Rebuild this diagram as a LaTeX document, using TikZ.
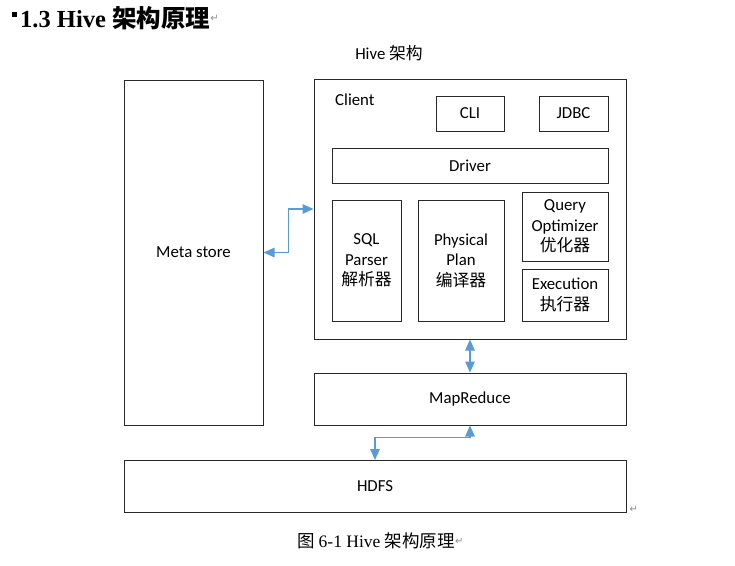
\documentclass[tikz,border=0pt]{standalone}
\usepackage{fontspec}
\setmainfont{Carlito}
\newfontfamily\cjk{Noto Sans CJK SC}
\newfontfamily\titlefont{Liberation Serif}
\newfontfamily\symfont{DejaVu Sans}
\usetikzlibrary{arrows.meta, positioning, calc}

\definecolor{linkblue}{RGB}{91, 155, 213}
\definecolor{markgray}{RGB}{140, 140, 140}
\definecolor{edgegray}{RGB}{40, 40, 40}

\newcommand{\bodyfont}{\fontsize{16.8}{20.5}\selectfont}
\tikzset{
  box/.style={draw=edgegray, line width=1pt, inner sep=0pt, align=center, font=\bodyfont},
  link/.style={linkblue, line width=1.3pt, {Triangle[length=11pt,width=9.5pt]}-{Triangle[length=11pt,width=9.5pt]}},
  pmark/.style={markgray, font=\symfont\fontsize{10}{10}\selectfont, inner sep=0pt}
}

\begin{document}
\begin{tikzpicture}[x=1pt, y=-1pt]
  % 页面范围（与截图一致）
  \useasboundingbox (0,0) rectangle (735,565);
  \fill[white] (0,0) rectangle (735,565);

  % 小节标题
  \fill (12,12) rectangle (17,17);
  \node[anchor=west, inner sep=0pt, font=\fontsize{24.5}{24.5}\selectfont] (sectitle) at (20,18)
    {\titlefont\bfseries 1.3 Hive {\cjk\bfseries 架构原理}};
  \node[pmark, anchor=west] (mark1) at (sectitle.east) {↵};

  % 图名
  \node[font=\bodyfont, inner sep=0pt] (archtitle) at (389,53) {Hive {\cjk 架构}};

  % 左侧 Meta store
  \node[box, minimum width=139, minimum height=345] (meta) at (193.5,252.5) {Meta store};

  % Hive 主体框
  \node[box, minimum width=312, minimum height=260] (hive) at (470,209) {};
  \node[font=\bodyfont, anchor=west, inner sep=0pt] (client) at (335,100) {Client};
  \node[box, minimum width=68, minimum height=35] (cli) at (470,113.5) {CLI};
  \node[box, minimum width=69, minimum height=35] (jdbc) at (573.5,113.5) {JDBC};
  \node[box, minimum width=276, minimum height=35] (driver) at (470,165.5) {Driver};

  % 内部组件
  \node[box, minimum width=69, minimum height=121] (parser) at (366.5,260.5)
    {SQL\\Parser\\{\cjk 解析器}};
  \node[box, minimum width=86, minimum height=121] (plan) at (461,260.5)
    {Physical\\Plan\\{\cjk 编译器}};
  \node[box, minimum width=86, minimum height=69] (optim) at (565,226.5)
    {Query\\Optimizer\\{\cjk 优化器}};
  \node[box, minimum width=86, minimum height=52] (exec) at (565,295)
    {Execution\\{\cjk 执行器}};

  % 下层
  \node[box, minimum width=312, minimum height=52] (mr) at (470,399) {MapReduce};
  \node[box, minimum width=502, minimum height=52] (hdfs) at (375,486) {HDFS};
  \coordinate (hdfsin) at (375,460);
  \node[pmark, anchor=south west] (mark2) at ([xshift=3pt]hdfs.south east) {↵};

  % 连接
  \draw[link] (meta.east) -- ++(25,0) |- (hive.west);
  \draw[link] (hive.south) -- (mr.north);
  \draw[link] (mr.south) -- ++(0,12) -| (hdfsin);

  % 图题
  \node[inner sep=0pt, font=\fontsize{17.5}{17.5}\selectfont] (caption) at (376,541)
    {{\cjk 图} \titlefont 6-1 Hive {\cjk 架构原理}};
  \node[pmark, anchor=west] (mark3) at (caption.east) {↵};
\end{tikzpicture}
\end{document}
